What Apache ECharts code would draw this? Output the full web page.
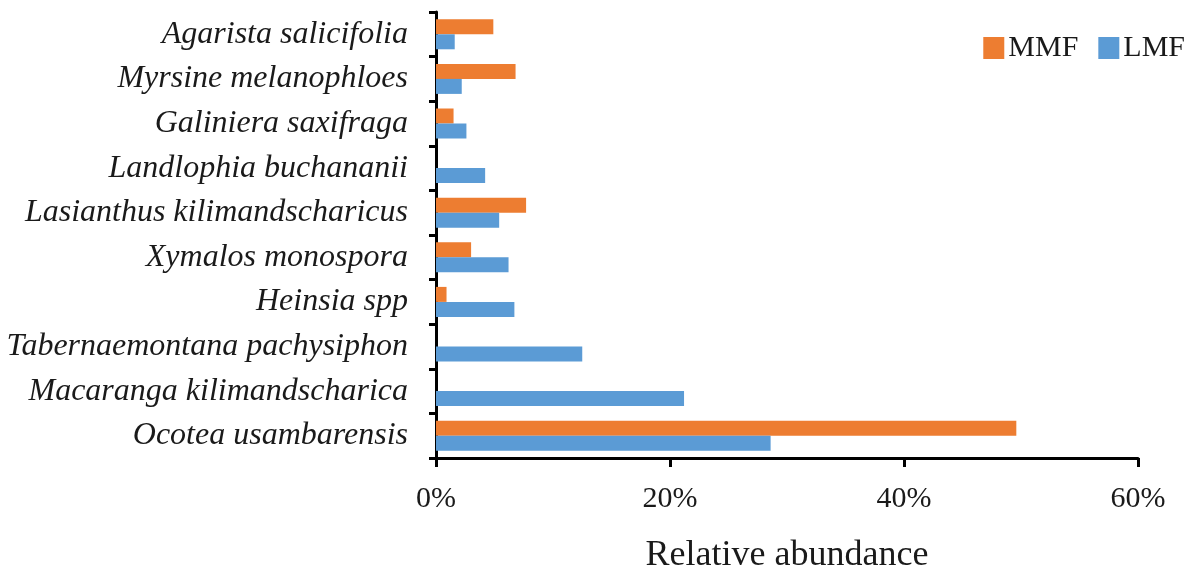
<!DOCTYPE html>
<html><head><meta charset="utf-8">
<script src="https://cdn.jsdelivr.net/npm/echarts@6/dist/echarts.min.js"></script>
<style>html,body{margin:0;padding:0;background:#fff}#c{width:1197px;height:578px}</style>
</head><body><div id="c"></div>
<script>
const categories = ['Ocotea usambarensis','Macaranga kilimandscharica','Tabernaemontana pachysiphon','Heinsia spp','Xymalos monospora','Lasianthus kilimandscharicus','Landlophia buchananii','Galiniera saxifraga','Myrsine melanophloes','Agarista salicifolia'];
const mmf = [49.6, 0, 0, 0.9, 3.0, 7.7, 0, 1.5, 6.8, 4.9];
const lmf = [28.6, 21.2, 12.5, 6.7, 6.2, 5.4, 4.2, 2.6, 2.2, 1.6];
const xTicks = [0, 20, 40, 60];

const chart = echarts.init(document.getElementById('c'));
const serif = 'Liberation Serif';
chart.setOption({
  animation: false,
  textStyle: {fontFamily: serif},
  legend: {
    data: ['MMF','LMF'], right: 7, top: 28, itemWidth: 21, itemHeight: 22, itemGap: 20,
    icon: 'rect',
    textStyle: {fontFamily: serif, fontSize: 30, color: '#1a1a1a', padding: [0,0,0,-1]}
  },
  grid: {left: 436, right: 59, top: 12, bottom: 120, containLabel: false, outerBoundsMode: 'none'},
  xAxis: {
    type: 'value', min: xTicks[0], max: xTicks[xTicks.length-1], interval: 20,
    name: 'Relative abundance', nameLocation: 'middle', nameGap: 80,
    nameTextStyle: {fontFamily: serif, fontSize: 36, color: '#1a1a1a'},
    axisLine: {show: true, lineStyle: {color: '#000', width: 3}},
    axisTick: {show: true, length: 9, inside: false, lineStyle: {color: '#000', width: 3}},
    axisLabel: {formatter: v => v + '%', fontFamily: serif, fontSize: 30, color: '#1a1a1a', margin: 26},
    splitLine: {show: false}
  },
  yAxis: {
    type: 'category', data: categories,
    axisLine: {show: true, lineStyle: {color: '#000', width: 3}},
    axisTick: {show: true, length: 7, lineStyle: {color: '#000', width: 3}},
    axisLabel: {fontFamily: serif, fontStyle: 'italic', fontSize: 32, color: '#1a1a1a', margin: 28, padding: [10,0,0,0]}
  },
  series: [
    {name: 'MMF', type: 'bar', data: mmf, barWidth: 15, barGap: '0%', itemStyle: {color: '#ED7D31'}},
    {name: 'LMF', type: 'bar', data: lmf, barWidth: 15, barGap: '0%', itemStyle: {color: '#5B9BD5'}}
  ]
});
</script></body></html>
